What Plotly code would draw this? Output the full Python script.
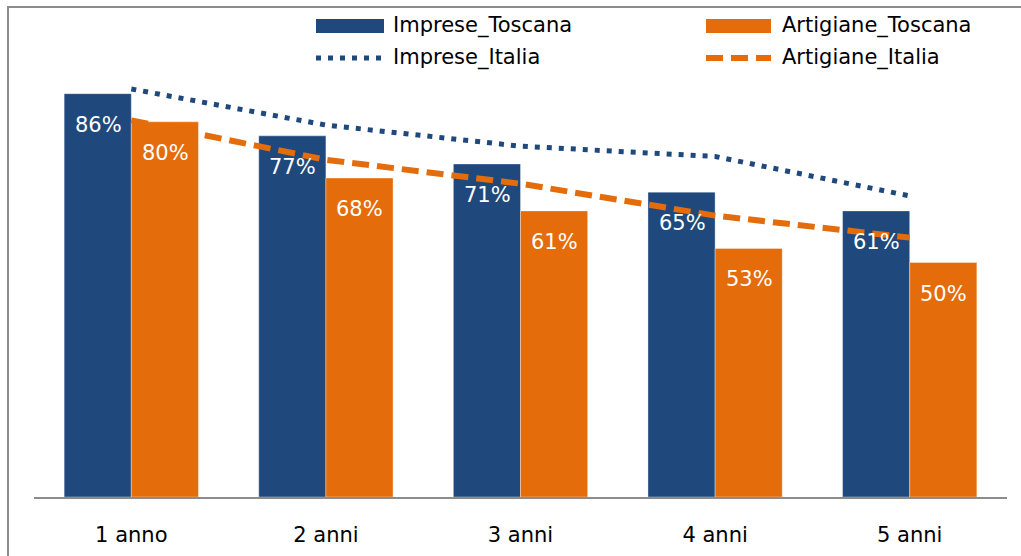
import plotly.graph_objects as go

categories = ["1 anno", "2 anni", "3 anni", "4 anni", "5 anni"]
imprese_toscana = [86, 77, 71, 65, 61]
artigiane_toscana = [80, 68, 61, 53, 50]
imprese_italia = [87, 79.3, 74.8, 72.6, 64.2]
artigiane_italia = [80.3, 71.9, 66.8, 60.0, 55.3]
series_names = ["Imprese_Toscana", "Artigiane_Toscana", "Imprese_Italia", "Artigiane_Italia"]

BLUE = "#1F497D"
ORANGE = "#E46C0A"
FONT = "DejaVu Sans"

W, H = 1021, 556
ML, MR, MT, MB = 34, 14, 28, 59
PW, PH = W - ML - MR, H - MT - MB

def px_x(x):
    return (x - ML) / PW

def px_y(y):
    return (H - MB - y) / PH

fig = go.Figure()
fig.add_trace(go.Bar(x=categories, y=imprese_toscana, name=series_names[0],
                     marker=dict(color=BLUE, line=dict(color="rgba(255,255,255,0.35)", width=1)),
                     showlegend=False))
fig.add_trace(go.Bar(x=categories, y=artigiane_toscana, name=series_names[1],
                     marker=dict(color=ORANGE, line=dict(color="rgba(255,255,255,0.35)", width=1)),
                     showlegend=False))
fig.add_trace(go.Scatter(x=categories, y=imprese_italia, name=series_names[2], mode="lines",
                         line=dict(color=BLUE, width=5, dash="5px,7px"), showlegend=False))
fig.add_trace(go.Scatter(x=categories, y=artigiane_italia, name=series_names[3], mode="lines",
                         line=dict(color=ORANGE, width=6, dash="17px,8px"), showlegend=False))

annotations = []
for cat, v in zip(categories, imprese_toscana):
    annotations.append(dict(x=cat, y=v, xref="x", yref="y", text=f"{v}%", showarrow=False,
                            xshift=-33, yshift=-31, font=dict(family=FONT, size=21, color="white")))
for cat, v in zip(categories, artigiane_toscana):
    annotations.append(dict(x=cat, y=v, xref="x", yref="y", text=f"{v}%", showarrow=False,
                            xshift=34, yshift=-31, font=dict(family=FONT, size=21, color="white")))

# legend (manual, two columns)
shapes = []
leg = [
    (316, 384, 26, "bar", BLUE, 391, series_names[0]),
    (706, 771, 26, "bar", ORANGE, 780, series_names[1]),
    (316, 384, 58, "dot", BLUE, 391, series_names[2]),
    (706, 771, 58, "dash", ORANGE, 780, series_names[3]),
]
for x0, x1, yc, kind, col, tx, label in leg:
    if kind == "bar":
        shapes.append(dict(type="rect", xref="paper", yref="paper",
                           x0=px_x(x0), x1=px_x(x1), y0=px_y(yc + 7), y1=px_y(yc - 7),
                           fillcolor=col, line=dict(width=0)))
    elif kind == "dot":
        shapes.append(dict(type="line", xref="paper", yref="paper",
                           x0=px_x(x0), x1=px_x(x1), y0=px_y(yc), y1=px_y(yc),
                           line=dict(color=col, width=5, dash="5px,7px")))
    else:
        shapes.append(dict(type="line", xref="paper", yref="paper",
                           x0=px_x(x0), x1=px_x(x1), y0=px_y(yc), y1=px_y(yc),
                           line=dict(color=col, width=6, dash="17px,8px")))
    annotations.append(dict(x=px_x(tx), y=px_y(yc), xref="paper", yref="paper", text=label,
                            showarrow=False, xanchor="left", yanchor="middle",
                            font=dict(family=FONT, size=21, color="black")))

# outer frame
shapes.append(dict(type="rect", xref="paper", yref="paper",
                   x0=px_x(8), x1=px_x(1030), y0=px_y(570), y1=px_y(7),
                   line=dict(color="#8c8c8c", width=2), fillcolor="rgba(0,0,0,0)", layer="above"))

fig.update_layout(
    width=W, height=H, autosize=False,
    margin=dict(l=ML, r=MR, t=MT, b=MB, autoexpand=False),
    paper_bgcolor="white", plot_bgcolor="white",
    barmode="group", bargap=0.31, bargroupgap=0,
    shapes=shapes, annotations=annotations,
    xaxis=dict(showline=True, linecolor="#8c8c8c", linewidth=2, showgrid=False, ticks="",
               automargin=False,
               tickfont=dict(family=FONT, size=21, color="black"), ticklabelstandoff=18),
    yaxis=dict(range=[0, 100], visible=False, showgrid=False, automargin=False),
    showlegend=False,
)

fig.write_html("out.html", config={"displayModeBar": False},
               post_script="document.body.style.margin='0px';document.body.style.overflow='hidden';")
